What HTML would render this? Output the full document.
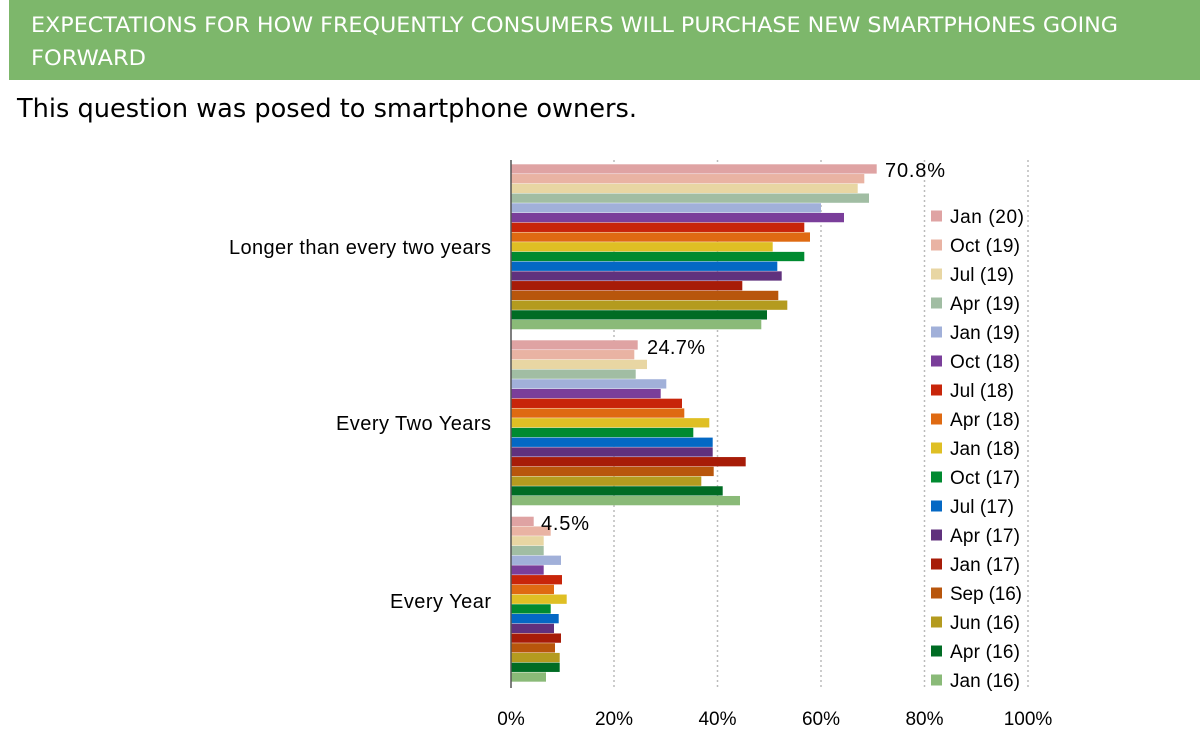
<!DOCTYPE html>
<html><head><meta charset="utf-8"><style>
body{margin:0;background:#fff;width:1200px;height:733px;overflow:hidden;font-family:"Liberation Sans",sans-serif}
</style></head><body>
<svg width="1200" height="733" xmlns="http://www.w3.org/2000/svg" font-family="Liberation Sans, sans-serif">
<rect x="9" y="0" width="1191" height="80" fill="#7db76b"/>
<text x="31" y="32" font-family="DejaVu Sans, sans-serif" font-size="21" fill="#fff" textLength="1087" lengthAdjust="spacingAndGlyphs">EXPECTATIONS FOR HOW FREQUENTLY CONSUMERS WILL PURCHASE NEW SMARTPHONES GOING</text>
<text x="31" y="65" font-family="DejaVu Sans, sans-serif" font-size="21" fill="#fff" textLength="115" lengthAdjust="spacingAndGlyphs">FORWARD</text>
<text x="17" y="117" font-family="DejaVu Sans, sans-serif" font-size="26" fill="#000" textLength="620" lengthAdjust="spacingAndGlyphs">This question was posed to smartphone owners.</text>
<g stroke="#bbb" stroke-width="1.5" stroke-dasharray="2,3">
<line x1="614" y1="160" x2="614" y2="690"/><line x1="717.5" y1="160" x2="717.5" y2="690"/><line x1="821" y1="160" x2="821" y2="690"/><line x1="924.5" y1="160" x2="924.5" y2="690"/><line x1="1028" y1="160" x2="1028" y2="690"/>
</g>
<g transform="translate(511,164.3)">
<rect y="0" width="365.7" height="9.3" fill="#dfa3a3"/>
<rect y="9.73" width="353.3" height="9.3" fill="#e9b3a3"/>
<rect y="19.46" width="346.7" height="9.3" fill="#e8d6a3"/>
<rect y="29.19" width="358" height="9.3" fill="#a1bda3"/>
<rect y="38.92" width="310" height="9.3" fill="#a1b0d9"/>
<rect y="48.65" width="333" height="9.3" fill="#7a3e9a"/>
<rect y="58.38" width="293.3" height="9.3" fill="#c8250a"/>
<rect y="68.11" width="299" height="9.3" fill="#df6a12"/>
<rect y="77.84" width="261.7" height="9.3" fill="#dfbf24"/>
<rect y="87.57" width="293.3" height="9.3" fill="#008a30"/>
<rect y="97.3" width="266.3" height="9.3" fill="#0468c4"/>
<rect y="107.03" width="270.7" height="9.3" fill="#60317d"/>
<rect y="116.76" width="231.3" height="9.3" fill="#a71c08"/>
<rect y="126.49" width="267.3" height="9.3" fill="#b8560c"/>
<rect y="136.22" width="276.3" height="9.3" fill="#b49b1f"/>
<rect y="145.95" width="256" height="9.3" fill="#006c24"/>
<rect y="155.68" width="250.3" height="9.3" fill="#8aba78"/>
</g>
<g transform="translate(511,340.3)">
<rect y="0" width="126.7" height="9.3" fill="#dfa3a3"/>
<rect y="9.73" width="123.3" height="9.3" fill="#e9b3a3"/>
<rect y="19.46" width="136" height="9.3" fill="#e8d6a3"/>
<rect y="29.19" width="124.7" height="9.3" fill="#a1bda3"/>
<rect y="38.92" width="155.3" height="9.3" fill="#a1b0d9"/>
<rect y="48.65" width="149.7" height="9.3" fill="#7a3e9a"/>
<rect y="58.38" width="171" height="9.3" fill="#c8250a"/>
<rect y="68.11" width="173.3" height="9.3" fill="#df6a12"/>
<rect y="77.84" width="198.3" height="9.3" fill="#dfbf24"/>
<rect y="87.57" width="182.3" height="9.3" fill="#008a30"/>
<rect y="97.3" width="201.7" height="9.3" fill="#0468c4"/>
<rect y="107.03" width="201.7" height="9.3" fill="#60317d"/>
<rect y="116.76" width="234.7" height="9.3" fill="#a71c08"/>
<rect y="126.49" width="202.7" height="9.3" fill="#b8560c"/>
<rect y="136.22" width="190.3" height="9.3" fill="#b49b1f"/>
<rect y="145.95" width="211.7" height="9.3" fill="#006c24"/>
<rect y="155.68" width="229" height="9.3" fill="#8aba78"/>
</g>
<g transform="translate(511,516.7)">
<rect y="0" width="22.7" height="9.3" fill="#dfa3a3"/>
<rect y="9.73" width="39.7" height="9.3" fill="#e9b3a3"/>
<rect y="19.46" width="32.7" height="9.3" fill="#e8d6a3"/>
<rect y="29.19" width="32.7" height="9.3" fill="#a1bda3"/>
<rect y="38.92" width="50" height="9.3" fill="#a1b0d9"/>
<rect y="48.65" width="32.7" height="9.3" fill="#7a3e9a"/>
<rect y="58.38" width="51" height="9.3" fill="#c8250a"/>
<rect y="68.11" width="43" height="9.3" fill="#df6a12"/>
<rect y="77.84" width="55.7" height="9.3" fill="#dfbf24"/>
<rect y="87.57" width="39.7" height="9.3" fill="#008a30"/>
<rect y="97.3" width="47.7" height="9.3" fill="#0468c4"/>
<rect y="107.03" width="43" height="9.3" fill="#60317d"/>
<rect y="116.76" width="50" height="9.3" fill="#a71c08"/>
<rect y="126.49" width="44" height="9.3" fill="#b8560c"/>
<rect y="136.22" width="48.7" height="9.3" fill="#b49b1f"/>
<rect y="145.95" width="48.7" height="9.3" fill="#006c24"/>
<rect y="155.68" width="35" height="9.3" fill="#8aba78"/>
</g>
<g font-size="19" fill="#000">
<rect x="931" y="210.5" width="11" height="11" fill="#dfa3a3"/><text x="950" y="223" textLength="74">Jan (20)</text>
<rect x="931" y="239.5" width="11" height="11" fill="#e9b3a3"/><text x="950" y="252" textLength="70">Oct (19)</text>
<rect x="931" y="268.5" width="11" height="11" fill="#e8d6a3"/><text x="950" y="281" textLength="64">Jul (19)</text>
<rect x="931" y="297.5" width="11" height="11" fill="#a1bda3"/><text x="950" y="310" textLength="70">Apr (19)</text>
<rect x="931" y="326.5" width="11" height="11" fill="#a1b0d9"/><text x="950" y="339" textLength="70">Jan (19)</text>
<rect x="931" y="355.5" width="11" height="11" fill="#7a3e9a"/><text x="950" y="368" textLength="70">Oct (18)</text>
<rect x="931" y="384.5" width="11" height="11" fill="#c8250a"/><text x="950" y="397" textLength="64">Jul (18)</text>
<rect x="931" y="413.5" width="11" height="11" fill="#df6a12"/><text x="950" y="426" textLength="70">Apr (18)</text>
<rect x="931" y="442.5" width="11" height="11" fill="#dfbf24"/><text x="950" y="455" textLength="70">Jan (18)</text>
<rect x="931" y="471.5" width="11" height="11" fill="#008a30"/><text x="950" y="484" textLength="70">Oct (17)</text>
<rect x="931" y="500.5" width="11" height="11" fill="#0468c4"/><text x="950" y="513" textLength="64">Jul (17)</text>
<rect x="931" y="529.5" width="11" height="11" fill="#60317d"/><text x="950" y="542" textLength="70">Apr (17)</text>
<rect x="931" y="558.5" width="11" height="11" fill="#a71c08"/><text x="950" y="571" textLength="70">Jan (17)</text>
<rect x="931" y="587.5" width="11" height="11" fill="#b8560c"/><text x="950" y="600" textLength="72">Sep (16)</text>
<rect x="931" y="616.5" width="11" height="11" fill="#b49b1f"/><text x="950" y="629" textLength="70">Jun (16)</text>
<rect x="931" y="645.5" width="11" height="11" fill="#006c24"/><text x="950" y="658" textLength="70">Apr (16)</text>
<rect x="931" y="674.5" width="11" height="11" fill="#8aba78"/><text x="950" y="687" textLength="70">Jan (16)</text>
</g>
<line x1="511" y1="160" x2="511" y2="688" stroke="#555" stroke-width="1.5"/>
<g font-size="20" fill="#000">
<text x="885" y="177" textLength="60">70.8%</text>
<text x="647" y="354" textLength="58">24.7%</text>
<text x="541" y="530" textLength="48">4.5%</text>
<text x="491" y="254" text-anchor="end" textLength="262">Longer than every two years</text>
<text x="491" y="430" text-anchor="end" textLength="155">Every Two Years</text>
<text x="491" y="608" text-anchor="end" textLength="101">Every Year</text>
</g>
<g font-size="19" fill="#000" text-anchor="middle">
<text x="511" y="725">0%</text><text x="614" y="725">20%</text><text x="717.5" y="725">40%</text><text x="821" y="725">60%</text><text x="924.5" y="725">80%</text><text x="1028" y="725">100%</text>
</g>
</svg>
</body></html>
